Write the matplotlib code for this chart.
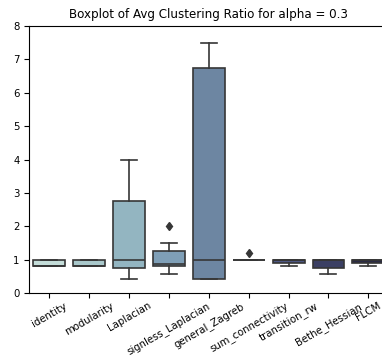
import numpy as np
import matplotlib
matplotlib.use("Agg")
import matplotlib.pyplot as plt


# Box statistics
methods = ['identity', 'modularity', 'Laplacian', 'signless_Laplacian', 'general_Zagreb',
           'sum_connectivity', 'transition_rw', 'Bethe_Hessian', 'FLCM']
q1 = [0.80, 0.80, 0.75, 0.80, 0.43, 1.00, 0.90, 0.75, 0.90]
med = [0.80, 0.80, 1.00, 0.86, 1.00, 1.00, 1.00, 1.00, 1.00]
q3 = [1.00, 1.00, 2.75, 1.25, 6.75, 1.00, 1.00, 1.00, 1.00]
whis_lo = [0.80, 0.80, 0.43, 0.58, 0.43, 1.00, 0.80, 0.58, 0.80]
whis_hi = [1.00, 1.00, 4.00, 1.50, 7.50, 1.00, 1.00, 1.00, 1.00]
outliers = [[], [], [], [2.0], [], [1.2], [], [], []]

title = 'Boxplot of Avg Clustering Ratio for alpha = 0.3'

# light teal -> dark navy, like the seaborn cubehelix palette in the original
colors = ['#c4ddd9', '#a9c8cb', '#93b5c1', '#7f9fb7', '#6d86a2',
          '#5d6e94', '#4d5783', '#3b3f63', '#2b2b45']


fig = plt.figure(figsize=(3.82, 3.56), dpi=100)
ax = fig.add_axes([29.3 / 382, 1 - 293 / 356, 359 / 382, 267 / 356])

stats = []
for i in range(len(methods)):
    stats.append(dict(label=methods[i], q1=q1[i], med=med[i], q3=q3[i],
                      whislo=whis_lo[i], whishi=whis_hi[i], fliers=outliers[i]))

gray = '#363636'
lw = 1.2
bp = ax.bxp(stats, positions=np.arange(len(methods)), widths=0.8, patch_artist=True,
            boxprops=dict(edgecolor=gray, linewidth=lw),
            medianprops=dict(color=gray, linewidth=lw),
            whiskerprops=dict(color=gray, linewidth=lw),
            capprops=dict(color=gray, linewidth=lw),
            flierprops=dict(marker='d', markerfacecolor=gray, markeredgecolor=gray,
                            markersize=4.5, linestyle='none'))

for patch, c in zip(bp['boxes'], colors):
    patch.set_facecolor(c)

for cap in bp['caps']:
    mid = cap.get_xdata().mean()
    cap.set_xdata([mid - 0.2, mid + 0.2])

ax.set_xlim(-0.5, len(methods) - 0.5)
ax.set_ylim(0, 8)
ax.set_title(title, fontsize=8.6)
ax.tick_params(labelsize=7.3)
ax.tick_params(axis='x', pad=2)
plt.xticks(rotation=30)

plt.savefig('out.png', dpi=100)
